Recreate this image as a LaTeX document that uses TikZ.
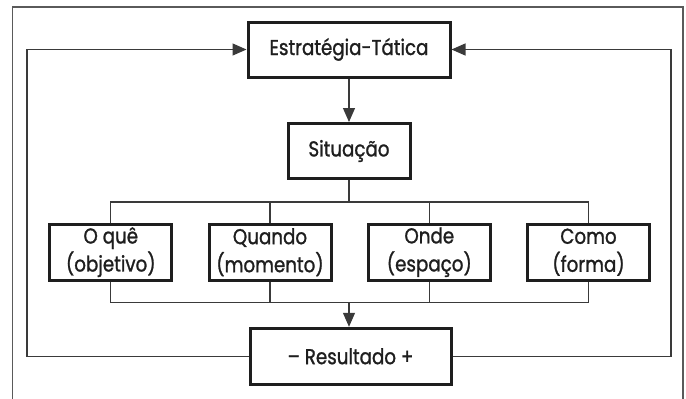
\documentclass[tikz,border=0pt]{standalone}
\usepackage{fontspec}
\setmainfont{Poppins}[FakeStretch=0.85,FakeBold=1.2]
\usetikzlibrary{arrows.meta}
\definecolor{ink}{HTML}{1E1E1E}
\definecolor{linec}{HTML}{3A3A3A}
\definecolor{framec}{HTML}{5A5A5A}
\begin{document}
\begin{tikzpicture}[x=1pt,y=-1pt,
  box/.style={draw=ink,line width=3pt,text=ink,inner sep=0pt,align=center,
    font=\fontsize{21.5}{28}\selectfont},
  conn/.style={draw=linec,line width=1.2pt},
  arr/.style={conn,-{Triangle[length=14pt,width=12pt]}}]
\useasboundingbox (0,0) rectangle (686,399);
\draw[framec,line width=1.5pt] (12.5,402) -- (12.5,7) -- (683,7) -- (683,402);
\node[box,minimum width=202pt,minimum height=55pt] (est) at (349,49.5) {Estratégia-Tática};
\node[box,minimum width=122pt,minimum height=55pt] (sit) at (349,151) {Situação};
\node[box,minimum width=122pt,minimum height=56pt] (oq) at (110.8,252.2) {O quê\\(objetivo)};
\node[box,minimum width=122pt,minimum height=56pt] (qu) at (270,252.2) {Quando\\(momento)};
\node[box,minimum width=122pt,minimum height=56pt] (on) at (429.3,252.2) {Onde\\(espaço)};
\node[box,minimum width=122pt,minimum height=56pt] (co) at (588.5,252.2) {Como\\(forma)};
\node[box,minimum width=201pt,minimum height=56pt] (res) at (350.5,356.3) {– Resultado +};
\coordinate (bt) at (349,202);
\coordinate (bb) at (349,302.5);
\coordinate (ltop) at (27,49.5);
\coordinate (lbot) at (27,356.3);
\coordinate (rtop) at (671,49.5);
\coordinate (rbot) at (671,356.3);
% arrow est -> sit
\draw[arr] (est.south -| sit.north) -- (sit.north);
% top bus
\draw[conn] (sit.south) -- (bt);
\draw[conn] (oq.north) |- (bt) -| (co.north);
\draw[conn] (qu.north) -- (qu.north |- bt);
\draw[conn] (on.north) -- (on.north |- bt);
% bottom bus
\draw[conn] (oq.south) |- (bb) -| (co.south);
\draw[conn] (qu.south) -- (qu.south |- bb);
\draw[conn] (on.south) -- (on.south |- bb);
\draw[arr] (bb) -- (bb |- res.north);
% feedback loops
\draw[arr] (res.west) -- (lbot) -- (ltop) -- (est.west);
\draw[arr] (res.east) -- (rbot) -- (rtop) -- (est.east);
\end{tikzpicture}
\end{document}
